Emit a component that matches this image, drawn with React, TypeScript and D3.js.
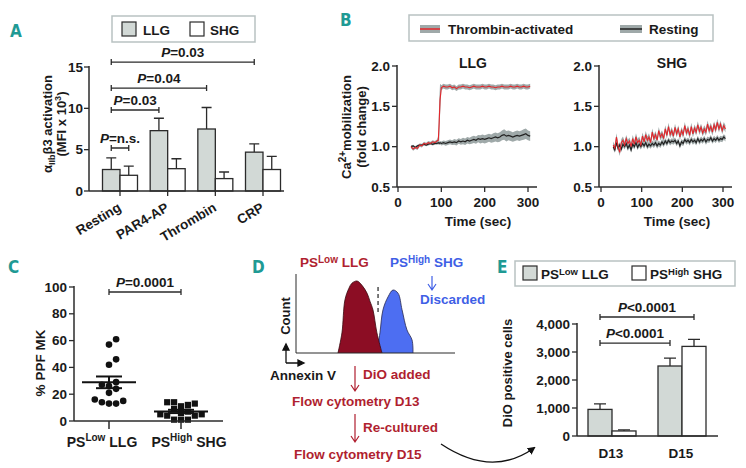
import React from 'react';
import * as d3 from 'd3';

const FONT = "'Liberation Sans', Arial, Helvetica, sans-serif";
const LETTER_FONT = "'Liberation Sans Narrow', 'DejaVu Sans Condensed', sans-serif";
const TEAL = '#1f9a94';
const GREY_FILL = '#d2d9d6';
const STROKE = '#2b2b2b';
const BOX = '#b9c2c2';
const BAND = '#9fa9a9';
const RED = '#e3262b';
const DARKRED_TXT = '#b01f30';
const BLUE_TXT = '#3f5fe6';

// ---------- Panel A ----------
const aCategories = ['Resting', 'PAR4-AP', 'Thrombin', 'CRP'];
const aSeries = ['LLG', 'SHG'];
const aLLG = [2.6, 7.3, 7.5, 4.7];
const aLLGUpper = [4.0, 8.8, 10.1, 5.7];
const aSHG = [1.9, 2.7, 1.5, 2.6];
const aSHGUpper = [3.0, 3.9, 2.3, 4.2];
const aYTicks = [0, 5, 10, 15];
const aBracketLeftCat = ['Resting', 'Resting', 'Resting', 'Resting'];
const aBracketLeftSer = ['LLG', 'LLG', 'LLG', 'LLG'];
const aBracketRightCat = ['Resting', 'PAR4-AP', 'Thrombin', 'CRP'];
const aBracketRightSer = ['SHG', 'LLG', 'LLG', 'LLG'];
const aBracketY = [5.2, 9.8, 12.45, 15.6];
const aBracketP = ['=n.s.', '=0.03', '=0.04', '=0.03'];

// ---------- Panel B ----------
const bYTicks = [0.5, 1.0, 1.5, 2.0];
const bXTicks = [0, 100, 200, 300];
const bLLGTime = [30, 35, 40, 45, 50, 55, 60, 65, 70, 75, 80, 85, 90, 93, 95, 97,
  100, 105, 110, 115, 120, 125, 130, 135, 140, 145, 150, 155, 160, 165, 170, 175, 180, 185, 190, 195,
  200, 205, 210, 215, 220, 225, 230, 235, 240, 245, 250, 255, 260, 265, 270, 275, 280, 285, 290, 295, 300, 305];
const bLLGThrombin = [1.00, 0.97, 0.99, 0.98, 1.02, 1.01, 1.04, 1.03, 1.05, 1.04, 1.06, 1.05, 1.07, 1.08, 1.30, 1.58,
  1.73, 1.75, 1.74, 1.74, 1.75, 1.73, 1.74, 1.72, 1.74, 1.74, 1.75, 1.74, 1.74, 1.73, 1.74, 1.75, 1.74, 1.74, 1.74, 1.75,
  1.74, 1.74, 1.75, 1.74, 1.74, 1.73, 1.74, 1.74, 1.75, 1.74, 1.74, 1.74, 1.75, 1.74, 1.74, 1.75, 1.74, 1.74, 1.75, 1.74, 1.74, 1.75];
const bLLGThrombinSem = [0.02, 0.02, 0.02, 0.02, 0.02, 0.02, 0.02, 0.02, 0.02, 0.02, 0.02, 0.02, 0.02, 0.05, 0.25, 0.2,
  0.03, 0.03, 0.03, 0.03, 0.03, 0.03, 0.03, 0.03, 0.03, 0.03, 0.03, 0.03, 0.03, 0.03, 0.03, 0.03, 0.03, 0.03, 0.03, 0.03,
  0.03, 0.03, 0.03, 0.03, 0.03, 0.03, 0.03, 0.03, 0.03, 0.03, 0.03, 0.03, 0.03, 0.03, 0.03, 0.03, 0.03, 0.03, 0.03, 0.03, 0.03, 0.03];
const bLLGResting = [1.00, 1.01, 0.99, 1.01, 1.02, 1.02, 1.03, 1.02, 1.03, 1.04, 1.03, 1.04, 1.04, 1.05, 1.04, 1.05,
  1.04, 1.05, 1.04, 1.05, 1.06, 1.05, 1.06, 1.05, 1.07, 1.06, 1.07, 1.06, 1.08, 1.07, 1.08, 1.09, 1.08, 1.10, 1.09, 1.10,
  1.09, 1.10, 1.11, 1.10, 1.11, 1.12, 1.11, 1.12, 1.14, 1.15, 1.13, 1.14, 1.13, 1.12, 1.13, 1.14, 1.13, 1.14, 1.15, 1.16, 1.14, 1.13];
const bLLGRestingSem = [0.015, 0.015, 0.015, 0.015, 0.015, 0.015, 0.015, 0.015, 0.015, 0.015, 0.015, 0.015, 0.015, 0.02, 0.02, 0.02,
  0.025, 0.025, 0.03, 0.03, 0.03, 0.03, 0.035, 0.035, 0.035, 0.035, 0.04, 0.04, 0.04, 0.04, 0.045, 0.045, 0.045, 0.045, 0.05, 0.05,
  0.05, 0.05, 0.05, 0.05, 0.055, 0.055, 0.055, 0.06, 0.06, 0.065, 0.065, 0.06, 0.06, 0.06, 0.06, 0.06, 0.06, 0.06, 0.065, 0.065, 0.06, 0.06];
const bSHGTime = [30, 34, 38, 42, 46, 50, 54, 58, 62, 66, 70, 74, 78, 82, 86, 90, 94, 98, 102, 106, 110, 114, 118, 122, 126, 130,
  134, 138, 142, 146, 150, 154, 158, 162, 166, 170, 174, 178, 182, 186, 190, 194, 198, 202, 206, 210, 214, 218, 222, 226, 230,
  234, 238, 242, 246, 250, 254, 258, 262, 266, 270, 274, 278, 282, 286, 290, 294, 298, 302, 306];
const bSHGThrombin = [1.02, 0.98, 1.12, 1.00, 0.93, 1.05, 1.08, 1.02, 1.10, 1.04, 1.07, 1.00, 1.10, 1.03, 1.12, 1.05, 1.08, 1.02,
  1.13, 1.06, 1.15, 1.08, 1.12, 1.05, 1.18, 1.10, 1.15, 1.08, 1.20, 1.12, 1.16, 1.10, 1.22, 1.14, 1.25, 1.15, 1.20, 1.13, 1.24,
  1.16, 1.22, 1.12, 1.20, 1.15, 1.26, 1.17, 1.22, 1.14, 1.25, 1.16, 1.23, 1.18, 1.27, 1.19, 1.24, 1.17, 1.22, 1.18, 1.28, 1.20,
  1.25, 1.18, 1.27, 1.21, 1.30, 1.22, 1.28, 1.20, 1.26, 1.22];
const bSHGResting = [1.00, 0.96, 1.05, 0.98, 1.02, 0.97, 1.03, 1.00, 1.04, 0.98, 1.02, 0.96, 1.03, 1.00, 1.05, 0.99, 1.03, 1.00,
  1.04, 1.01, 1.05, 1.00, 1.03, 1.01, 1.04, 1.02, 1.05, 1.01, 1.04, 1.02, 1.06, 1.03, 1.07, 1.04, 1.08, 1.05, 1.07, 1.06, 1.08,
  1.04, 1.07, 1.01, 1.06, 1.04, 1.09, 1.06, 1.08, 1.05, 1.09, 1.06, 1.08, 1.05, 1.10, 1.06, 1.09, 1.07, 1.10, 1.06, 1.09, 1.08,
  1.11, 1.07, 1.10, 1.08, 1.11, 1.08, 1.10, 1.09, 1.12, 1.10];
const bSHGThrombinSem = 0.045;
const bSHGRestingSem = 0.035;

// ---------- Panel C ----------
const cGroups = ['LLG', 'SHG'];
const cLLG = [61, 57, 46, 42, 29, 27, 26, 24, 21, 16, 15, 14, 13, 13];
const cSHG = [14, 14, 13, 12, 11, 9, 7, 6, 5, 5, 4, 4, 1, 1, 1];
const cYTicks = [0, 20, 40, 60, 80, 100];

// ---------- Panel D ----------
const dLowAnnexin = [26.4, 28.9, 30.8, 33.3, 35.2, 38.4, 41.5, 44.7, 46.5, 48.4, 50.9, 54.1];
const dLowCount = [0, 0.28, 0.74, 0.9, 0.97, 1.0, 0.94, 0.83, 0.72, 0.6, 0.28, 0];
const dHighAnnexin = [50.9, 52.8, 54.7, 57.9, 61.0, 64.2, 66.7, 69.8, 73.0, 73.6];
const dHighCount = [0, 0.28, 0.6, 0.78, 0.875, 0.83, 0.6, 0.32, 0.18, 0];
const dGate = 51.6;

// ---------- Panel E ----------
const eDays = ['D13', 'D15'];
const eLLG = [950, 2500];
const eLLGUpper = [1150, 2780];
const eSHG = [180, 3200];
const eSHGUpper = [220, 3450];
const eYTicks = [0, 1000, 2000, 3000, 4000];
const eBracketRightDay = ['D15', 'D15'];
const eBracketRightSer = ['LLG', 'SHG'];
const eBracketY = [3320, 4250];

function Bracket({ x1, x2, y, label, fs = 13.5 }: any) {
  return (
    <g>
      <path d={`M${x1},${y - 3}V${y + 3}M${x1},${y}H${x2}M${x2},${y - 3}V${y + 3}`} stroke={STROKE} strokeWidth={1.3} fill="none" />
      <text x={(x1 + x2) / 2} y={y - 5} textAnchor="middle" fontSize={fs}>
        <tspan fontStyle="italic">P</tspan>{label}
      </text>
    </g>
  );
}

function Letter({ x, y, t }: any) {
  return <text x={x} y={y} fontFamily={LETTER_FONT} fontSize={17} fill={TEAL} fontWeight="bold">{t}</text>;
}

function PanelA() {
  const x = d3.scalePoint<string>().domain(aCategories).range([120, 263]);
  const sub = d3.scaleBand<string>().domain(aSeries).range([-17.5, 17.5]);
  const y = d3.scaleLinear().domain([0, 15]).range([191, 67]);
  const bw = sub.bandwidth();
  const series = [
    { key: 'LLG', vals: aLLG, up: aLLGUpper, fill: GREY_FILL },
    { key: 'SHG', vals: aSHG, up: aSHGUpper, fill: '#fff' },
  ];
  const cx = (c: string, s: string) => (x(c) as number) + (sub(s) as number) + bw / 2;
  return (
    <g>
      <Letter x={10} y={37} t="A" />
      <rect x={112} y={16} width={143} height={26} fill="#fff" stroke={BOX} strokeWidth={1.5} />
      <rect x={122} y={22} width={14} height={14} fill={GREY_FILL} stroke={STROKE} strokeWidth={1.2} />
      <text x={143} y={34.5} fontSize={13.5}>LLG</text>
      <rect x={190} y={22} width={14} height={14} fill="#fff" stroke={STROKE} strokeWidth={1.2} />
      <text x={210} y={34.5} fontSize={13.5}>SHG</text>
      <text transform="translate(52,124) rotate(-90)" textAnchor="middle" fontSize={13}>
        α<tspan fontSize={9} dy={3}>IIb</tspan><tspan dy={-3}>β3 activation</tspan>
      </text>
      <text transform="translate(66,124) rotate(-90)" textAnchor="middle" fontSize={13}>
        (MFI x 10<tspan fontSize={9} dy={-5}>3</tspan><tspan dy={5}>)</tspan>
      </text>
      {aYTicks.map(t => (
        <g key={t}>
          <line x1={84} x2={89} y1={y(t)} y2={y(t)} stroke={STROKE} strokeWidth={1.3} />
          <text x={83} y={y(t) + 4.5} textAnchor="end" fontSize={13.5}>{t}</text>
        </g>
      ))}
      {series.map(s => aCategories.map((c, i) => {
        const bx = (x(c) as number) + (sub(s.key) as number);
        const mx = bx + bw / 2;
        return (
          <g key={s.key + c}>
            <path d={`M${mx},${y(s.vals[i])}V${y(s.up[i])}M${mx - 5},${y(s.up[i])}H${mx + 5}`} stroke={STROKE} strokeWidth={1.3} fill="none" />
            <rect x={bx} y={y(s.vals[i])} width={bw} height={y(0) - y(s.vals[i])} fill={s.fill} stroke={STROKE} strokeWidth={1.3} />
          </g>
        );
      }))}
      <line x1={89} x2={89} y1={66} y2={191} stroke={STROKE} strokeWidth={1.5} />
      <line x1={89} x2={284} y1={191} y2={191} stroke={STROKE} strokeWidth={1.5} />
      {aCategories.map(c => (
        <g key={c}>
          <line x1={x(c)} x2={x(c)} y1={191} y2={196} stroke={STROKE} strokeWidth={1.3} />
          <text transform={`translate(${(x(c) as number) + 2},${210}) rotate(-31)`} textAnchor="end" fontSize={13.5}>{c}</text>
        </g>
      ))}
      {aBracketY.map((v, i) => (
        <Bracket key={i} x1={cx(aBracketLeftCat[i], aBracketLeftSer[i])} x2={cx(aBracketRightCat[i], aBracketRightSer[i])} y={y(v)} label={aBracketP[i]} />
      ))}
    </g>
  );
}

function TracePlot({ axisX, xr, xEnd, title, time, thr, thrSem, rest, restSem }: any) {
  const x = d3.scaleLinear().domain([0, 300]).range(xr);
  const y = d3.scaleLinear().domain([0.5, 2.0]).range([187, 66]);
  const semAt = (s: any, i: number) => (typeof s === 'number' ? s : s[i]);
  const idx = time.map((_: number, i: number) => i);
  const area = (vals: number[], sem: any) =>
    d3.area<number>().x(i => x(time[i])).y0(i => y(vals[i] - semAt(sem, i))).y1(i => y(vals[i] + semAt(sem, i)))(idx) as string;
  const line = (vals: number[]) => d3.line<number>().x(i => x(time[i])).y(i => y(vals[i]))(idx) as string;
  const cx = (xr[0] + xr[1]) / 2;
  return (
    <g>
      <path d={area(rest, restSem)} fill={BAND} />
      <path d={area(thr, thrSem)} fill={BAND} />
      <path d={line(rest)} fill="none" stroke="#222" strokeWidth={1.2} />
      <path d={line(thr)} fill="none" stroke={RED} strokeWidth={1.1} />
      <line x1={axisX} x2={axisX} y1={65} y2={187} stroke={STROKE} strokeWidth={1.5} />
      <line x1={axisX} x2={xEnd} y1={187} y2={187} stroke={STROKE} strokeWidth={1.5} />
      {bYTicks.map(t => (
        <g key={t}>
          <line x1={axisX - 5} x2={axisX} y1={y(t)} y2={y(t)} stroke={STROKE} strokeWidth={1.3} />
          <text x={axisX - 7} y={y(t) + 4.5} textAnchor="end" fontSize={13.5}>{t.toFixed(1)}</text>
        </g>
      ))}
      {bXTicks.map(t => (
        <g key={t}>
          <line x1={x(t)} x2={x(t)} y1={187} y2={192} stroke={STROKE} strokeWidth={1.3} />
          <text x={x(t)} y={207} textAnchor="middle" fontSize={13.5}>{t}</text>
        </g>
      ))}
      <text x={cx + 10} y={68} textAnchor="middle" fontSize={14}>{title}</text>
      <text x={cx + 15} y={226} textAnchor="middle" fontSize={13.5}>Time (sec)</text>
    </g>
  );
}

function PanelB() {
  return (
    <g>
      <Letter x={340} y={26} t="B" />
      <rect x={409} y={15} width={304} height={26} fill="#fff" stroke={BOX} strokeWidth={1.5} />
      <rect x={420} y={25} width={20} height={8} fill={BAND} />
      <line x1={420} x2={440} y1={29} y2={29} stroke={RED} strokeWidth={1.5} />
      <text x={448} y={34} fontSize={13.5}>Thrombin-activated</text>
      <rect x={620} y={25} width={22} height={8} fill={BAND} />
      <line x1={620} x2={642} y1={29} y2={29} stroke="#222" strokeWidth={1.5} />
      <text x={649} y={34} fontSize={13.5}>Resting</text>
      <text transform="translate(351,127) rotate(-90)" textAnchor="middle" fontSize={13}>
        Ca<tspan fontSize={10} dy={-5}>2+</tspan><tspan dy={5}>mobilization</tspan>
      </text>
      <text transform="translate(366,127) rotate(-90)" textAnchor="middle" fontSize={13}>(fold change)</text>
      <TracePlot axisX={397} xr={[398, 528]} xEnd={537} title="LLG" time={bLLGTime}
        thr={bLLGThrombin} thrSem={bLLGThrombinSem} rest={bLLGResting} restSem={bLLGRestingSem} />
      <TracePlot axisX={599} xr={[601, 723]} xEnd={732} title="SHG" time={bSHGTime}
        thr={bSHGThrombin} thrSem={bSHGThrombinSem} rest={bSHGResting} restSem={bSHGRestingSem} />
    </g>
  );
}

function beeswarm(vals: number[], yPix: (v: number) => number, r: number) {
  const order = vals.map((_, i) => i).sort((a, b) => vals[a] - vals[b]);
  const placed: { x: number; y: number }[] = [];
  const res: { x: number; y: number }[] = new Array(vals.length);
  const step = 2 * r + 0.5;
  for (const i of order) {
    const py = yPix(vals[i]);
    for (let k = 0; k < 40; k++) {
      const off = k === 0 ? 0 : (k % 2 === 1 ? 1 : -1) * Math.ceil(k / 2) * step;
      const ok = placed.every(p => (p.x - off) ** 2 + (p.y - py) ** 2 >= (2 * r) ** 2);
      if (ok) {
        res[i] = { x: off, y: py };
        placed.push(res[i]);
        break;
      }
    }
  }
  return res;
}

function PanelC() {
  const y = d3.scaleLinear().domain([0, 100]).range([421, 287]);
  const x = d3.scalePoint<string>().domain(cGroups).range([109, 181]);
  const stats = (v: number[]) => {
    const m = d3.mean(v) as number;
    const s = (d3.deviation(v) as number) / Math.sqrt(v.length);
    return { m, s };
  };
  const sL = stats(cLLG), sS = stats(cSHG);
  const pL = beeswarm(cLLG, y, 3.3);
  const pS = beeswarm(cSHG, y, 3.2);
  const xl = x('LLG') as number, xs = x('SHG') as number;
  return (
    <g>
      <Letter x={8} y={273} t="C" />
      <text transform="translate(45,363) rotate(-90)" textAnchor="middle" fontSize={13.5}>% PPF MK</text>
      {cYTicks.map(t => (
        <g key={t}>
          <line x1={69} x2={74} y1={y(t)} y2={y(t)} stroke={STROKE} strokeWidth={1.3} />
          <text x={67} y={y(t) + 4.5} textAnchor="end" fontSize={13.5}>{t}</text>
        </g>
      ))}
      {pL.map((p, i) => <circle key={i} cx={xl + p.x} cy={p.y} r={3.3} fill="#111" />)}
      {pS.map((p, i) => <rect key={i} x={xs + p.x - 3.1} y={p.y - 3.1} width={6.2} height={6.2} fill="#111" />)}
      {[{ c: xl, s: sL }, { c: xs, s: sS }].map((g, i) => (
        <g key={i} stroke="#111" strokeWidth={2}>
          <line x1={g.c - 27} x2={g.c + 27} y1={y(g.s.m)} y2={y(g.s.m)} />
          <line x1={g.c - 13} x2={g.c + 13} y1={y(g.s.m + g.s.s)} y2={y(g.s.m + g.s.s)} />
          <line x1={g.c - 13} x2={g.c + 13} y1={y(g.s.m - g.s.s)} y2={y(g.s.m - g.s.s)} />
          <line x1={g.c} x2={g.c} y1={y(g.s.m + g.s.s)} y2={y(g.s.m - g.s.s)} />
        </g>
      ))}
      <line x1={74} x2={74} y1={286} y2={421} stroke={STROKE} strokeWidth={1.5} />
      <line x1={74} x2={223} y1={421} y2={421} stroke={STROKE} strokeWidth={1.5} />
      {cGroups.map(g => <line key={g} x1={x(g)} x2={x(g)} y1={421} y2={429} stroke={STROKE} strokeWidth={1.5} />)}
      <Bracket x1={xl} x2={xs} y={292} label="=0.0001" />
      <text x={102} y={447} textAnchor="middle" fontSize={14}>PS<tspan fontSize={10} dy={-6}>Low</tspan><tspan dy={6}> LLG</tspan></text>
      <text x={189} y={447} textAnchor="middle" fontSize={14}>PS<tspan fontSize={10} dy={-6}>High</tspan><tspan dy={6}> SHG</tspan></text>
    </g>
  );
}

function DownArrow({ x, y1, y2, color }: any) {
  return (
    <path d={`M${x},${y1}V${y2}M${x - 4},${y2 - 6}L${x},${y2}L${x + 4},${y2 - 6}`} stroke={color} strokeWidth={1.2} fill="none" />
  );
}

function PanelD() {
  const x = d3.scaleLinear().domain([0, 100]).range([296, 455]);
  const y = d3.scaleLinear().domain([0, 1]).range([353, 281]);
  const shape = (xs: number[], cs: number[]) =>
    d3.line<number>().x(i => x(xs[i])).y(i => y(cs[i])).curve(d3.curveCatmullRom)(xs.map((_, i) => i)) as string;
  return (
    <g>
      <Letter x={252} y={273} t="D" />
      <text x={300} y={267} fontSize={13.5} fill={DARKRED_TXT}>PS<tspan fontSize={10} dy={-4}>Low</tspan><tspan dy={4}> LLG</tspan></text>
      <text x={390} y={267} fontSize={13.5} fill={BLUE_TXT}>PS<tspan fontSize={10} dy={-4}>High</tspan><tspan dy={4}> SHG</tspan></text>
      <DownArrow x={432} y1={276} y2={290} color={BLUE_TXT} />
      <text x={420} y={304} fontSize={13.5} fill={BLUE_TXT}>Discarded</text>
      <path d={shape(dHighAnnexin, dHighCount)} fill="#4d6ef2" stroke="#2a2a50" strokeWidth={0.8} />
      <path d={shape(dLowAnnexin, dLowCount)} fill="#8c0d24" stroke="#3a0a10" strokeWidth={0.8} />
      <line x1={x(dGate)} x2={x(dGate)} y1={287} y2={312} stroke="#222" strokeWidth={1.2} strokeDasharray="4,3" />
      <line x1={296} x2={296} y1={274} y2={353} stroke={STROKE} strokeWidth={1} />
      <line x1={296} x2={455} y1={353} y2={353} stroke={STROKE} strokeWidth={1} />
      <text transform="translate(290,316) rotate(-90)" textAnchor="middle" fontSize={13}>Count</text>
      <path d="M286,363V346M283,350L286,344L289,350Z M286,363H302M298,360L304,363L298,366Z" stroke="#111" strokeWidth={1.3} fill="#111" />
      <text x={270} y={380} fontSize={13.5}>Annexin V</text>
      <DownArrow x={355} y1={366} y2={391} color={DARKRED_TXT} />
      <text x={363} y={379} fontSize={13.5} fill={DARKRED_TXT}>DiO added</text>
      <text x={292} y={406} fontSize={13.5} fill={DARKRED_TXT}>Flow cytometry D13</text>
      <DownArrow x={355} y1={414} y2={442} color={DARKRED_TXT} />
      <text x={363} y={432} fontSize={13.5} fill={DARKRED_TXT}>Re-cultured</text>
      <text x={294} y={459} fontSize={13.5} fill={DARKRED_TXT}>Flow cytometry D15</text>
      <defs>
        <marker id="ah" markerWidth={8} markerHeight={8} refX={6} refY={4} orient="auto" markerUnits="userSpaceOnUse">
          <path d="M0,0L8,4L0,8Z" fill="#111" />
        </marker>
      </defs>
      <path d="M441,444Q492,478 534,448" fill="none" stroke="#111" strokeWidth={1.3} markerEnd="url(#ah)" />
    </g>
  );
}

function PanelE() {
  const x = d3.scalePoint<string>().domain(eDays).range([612, 682]);
  const sub = d3.scaleBand<string>().domain(aSeries).range([-24, 24]);
  const bw = sub.bandwidth();
  const y = d3.scaleLinear().domain([0, 4000]).range([436, 324]);
  const series = [
    { key: 'LLG', vals: eLLG, up: eLLGUpper, fill: GREY_FILL },
    { key: 'SHG', vals: eSHG, up: eSHGUpper, fill: '#fff' },
  ];
  const cx = (d: string, s: string) => (x(d) as number) + (sub(s) as number) + bw / 2;
  return (
    <g>
      <Letter x={497} y={273} t="E" />
      <rect x={515} y={261} width={220} height={25} fill="#fff" stroke={BOX} strokeWidth={1.5} />
      <rect x={523} y={266} width={14} height={14} fill={GREY_FILL} stroke={STROKE} strokeWidth={1.2} />
      <text x={541} y={279} fontSize={13.5}>PS<tspan fontSize={9.5} dy={-4}>Low</tspan><tspan dy={4}> LLG</tspan></text>
      <rect x={632} y={266} width={14} height={14} fill="#fff" stroke={STROKE} strokeWidth={1.2} />
      <text x={650} y={279} fontSize={13.5}>PS<tspan fontSize={9.5} dy={-4}>High</tspan><tspan dy={4}> SHG</tspan></text>
      <text transform="translate(512,373) rotate(-90)" textAnchor="middle" fontSize={13}>DiO positive cells</text>
      {eYTicks.map(t => (
        <g key={t}>
          <line x1={572} x2={577} y1={y(t)} y2={y(t)} stroke={STROKE} strokeWidth={1.3} />
          <text x={570} y={y(t) + 4.5} textAnchor="end" fontSize={13.5}>{d3.format(',')(t)}</text>
        </g>
      ))}
      {series.map(s => eDays.map((d, i) => {
        const bx = (x(d) as number) + (sub(s.key) as number);
        const mx = bx + bw / 2;
        return (
          <g key={s.key + d}>
            <path d={`M${mx},${y(s.vals[i])}V${y(s.up[i])}M${mx - 6},${y(s.up[i])}H${mx + 6}`} stroke={STROKE} strokeWidth={1.3} fill="none" />
            <rect x={bx} y={y(s.vals[i])} width={bw} height={y(0) - y(s.vals[i])} fill={s.fill} stroke={STROKE} strokeWidth={1.3} />
          </g>
        );
      }))}
      <line x1={577} x2={577} y1={323} y2={436} stroke={STROKE} strokeWidth={1.5} />
      <line x1={577} x2={718} y1={436} y2={436} stroke={STROKE} strokeWidth={1.5} />
      {eDays.map(d => <text key={d} x={(x(d) as number) - 1} y={458} textAnchor="middle" fontSize={13.5}>{d}</text>)}
      {eBracketY.map((v, i) => (
        <Bracket key={i} x1={cx('D13', 'LLG')} x2={cx(eBracketRightDay[i], eBracketRightSer[i])} y={y(v)} label="<0.0001" />
      ))}
    </g>
  );
}

export default function App() {
  return (
    <svg width={746} height={468} style={{ position: 'absolute', left: 0, top: 0, background: '#fff' }}
      fontFamily={FONT} fontWeight="bold" fill="#1a1a1a">
      <PanelA />
      <PanelB />
      <PanelC />
      <PanelD />
      <PanelE />
    </svg>
  );
}
